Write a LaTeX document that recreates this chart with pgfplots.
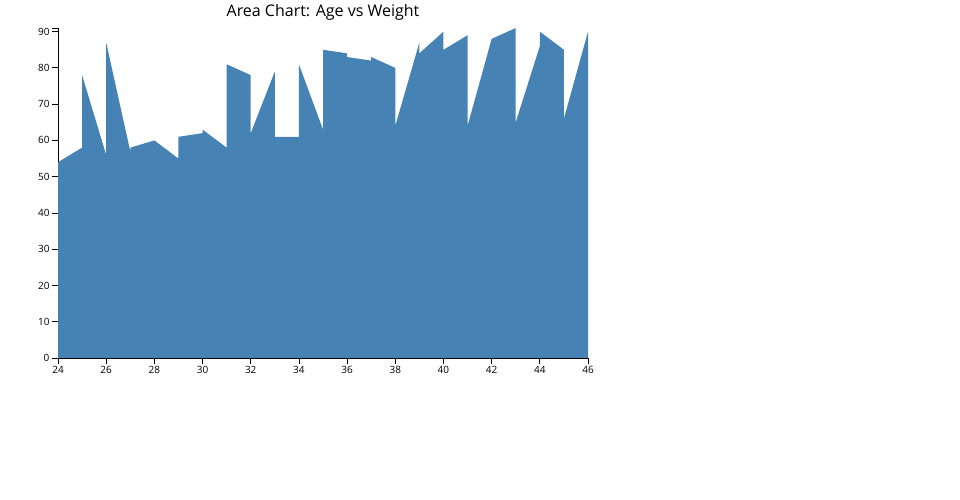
\documentclass[border=0pt]{standalone}
\usepackage{pgfplots}
\pgfplotsset{compat=1.18}
\usepackage{fontspec}
\setmainfont{Open Sans}
\definecolor{steelblue}{HTML}{4682B4}

\begin{document}
\begin{tikzpicture}
\path[use as bounding box] (0,0) rectangle (960pt,500pt);
\begin{axis}[
    at={(58pt,142pt)}, anchor=south west,
    scale only axis,
    width=530pt, height=330pt,
    xmin=24, xmax=46,
    ymin=0, ymax=91,
    axis lines*=left,
    axis line style={black, line width=0.8pt},
    xtick={24,26,...,46},
    ytick={0,10,...,90},
    extra y ticks={91}, extra y tick labels={},
    tick align=outside,
    major tick length=6pt,
    tick style={black, line width=0.8pt},
    /pgf/number format/assume math mode=true,
    tick label style={font=\fontsize{10}{12}\selectfont},
    xticklabel style={yshift=1pt},
    yticklabel style={xshift=1pt},
    clip=false,
]
% age vs weight, sorted by age
\addplot[fill=steelblue, draw=none] coordinates {
    (24,54) (25,58) (25,78) (26,56) (26,87) (27,57) (27,58) (28,60)
    (29,55) (29,61) (30,62) (30,63) (31,58) (31,81) (32,78) (32,62)
    (33,79) (33,61) (34,61) (34,81) (35,63) (35,85) (36,84) (36,83)
    (37,82) (37,83) (38,80) (38,64) (39,87) (39,84) (40,90) (40,85)
    (41,89) (41,64) (42,88) (43,91) (43,65) (44,86) (44,90) (45,85)
    (45,66) (46,90)
} \closedcycle;
\end{axis}
% title, cut off at the top as in the reference
\begin{scope}
\clip (0,0) rectangle (960pt,495pt);
\node[anchor=base, font=\fontsize{16}{19}\selectfont] at (323pt,483pt) {Area Chart: Age vs Weight};
\end{scope}
\end{tikzpicture}
\end{document}
